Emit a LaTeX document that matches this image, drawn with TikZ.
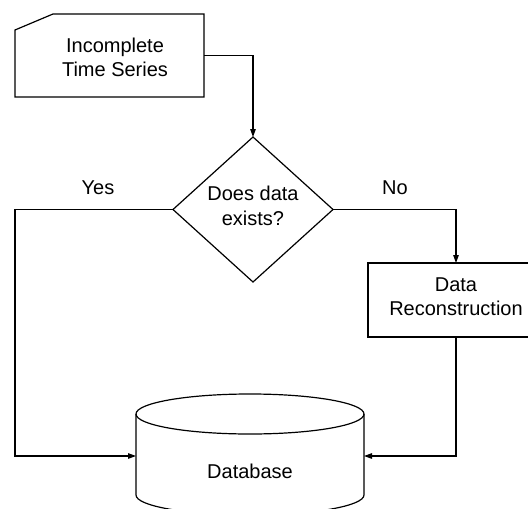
\documentclass[tikz,border=0pt]{standalone}
\usepackage{fontspec}
\setmainfont{Liberation Sans}
\usetikzlibrary{shapes.geometric,arrows.meta}
\begin{document}
\begin{tikzpicture}[x=1pt,y=-1pt,line width=1.2pt,
  txt/.style={font=\fontsize{20}{24.5}\selectfont,align=center,inner sep=0pt},
  shp/.style={inner sep=0pt,outer sep=0pt},
  arr/.style={-{Triangle[length=8pt,width=5.5pt]}}]
\clip (0,0) rectangle (528,509);
\fill[white] (0,0) rectangle (528,509);
% card (incomplete time series)
\node[shp,minimum width=189pt,minimum height=83pt] (card) at (109.5,55.5) {};
\draw (15,30) -- (53,14) -- (204,14) -- (204,97) -- (15,97) -- cycle;
\node[txt] (cardtext) at (115,57.5) {Incomplete\\Time Series};
% diamond
\node[shp,diamond,draw,minimum width=160pt,minimum height=145pt,aspect=1.1] (dia) at (253,209.5) {};
\node[txt] (diatext) at (253,206) {Does data\\exists?};
% reconstruction box
\node[shp,draw,minimum width=176pt,minimum height=74pt] (rec) at (456,300) {};
\node[txt] (rectext) at (456,296.5) {Data\\Reconstruction};
% database cylinder
\draw (250,414) ellipse [x radius=114,y radius=20];
\draw (136,414) -- (136,495) arc[start angle=180,end angle=0,x radius=114,y radius=20] -- (364,414);
\coordinate (dbL) at (136,456);
\coordinate (dbR) at (364,456);
\node[txt] (db) at (250,471) {Database};
% labels
\node[txt] (yes) at (98,188) {Yes};
\node[txt] (no) at (395,188) {No};
% connectors
\draw[arr] (card.east) -| (dia.north);
\draw[arr] (dia.west) -- (15,209.5) |- (dbL);
\draw[arr] (dia.east) -| (rec.north);
\draw[arr] (rec.south) |- (dbR);
\end{tikzpicture}
\end{document}
